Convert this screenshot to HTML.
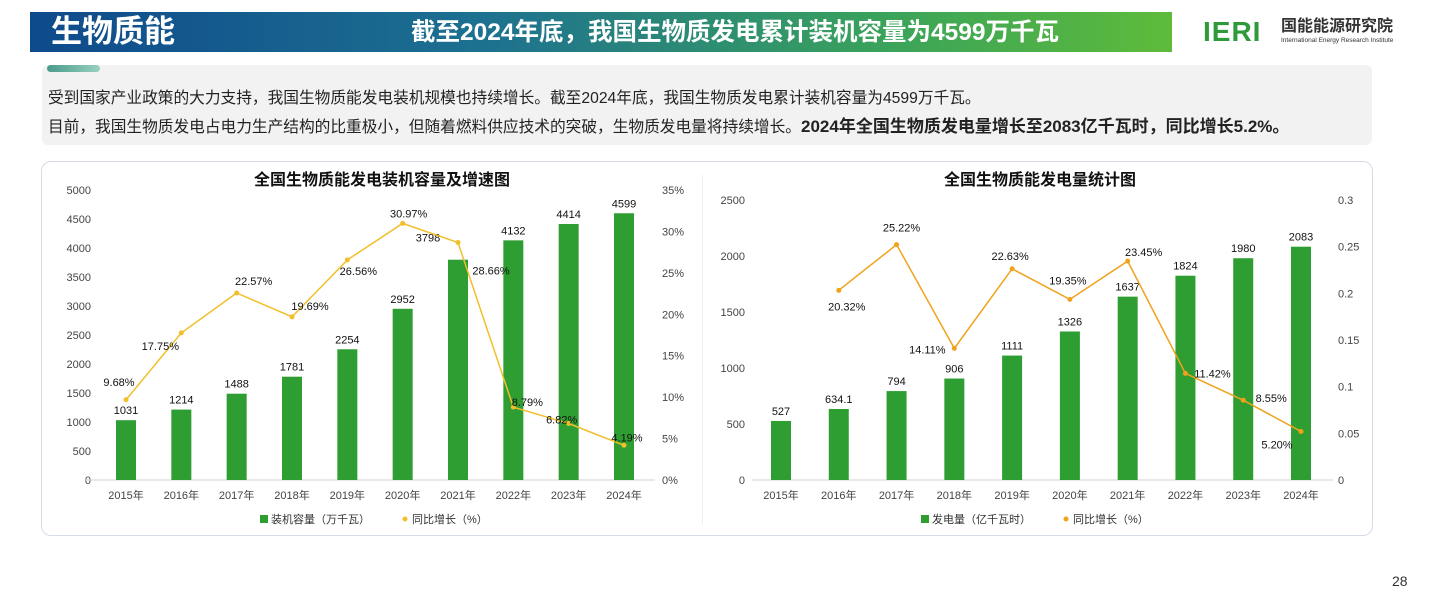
<!DOCTYPE html>
<html><head><meta charset="utf-8">
<style>
body{margin:0;width:1434px;height:613px;background:#fff;position:relative;overflow:hidden;font-family:"Liberation Sans","Noto Sans CJK SC",sans-serif;}
.abs{position:absolute;}
</style></head><body>
<div class="abs" style="left:30px;top:12px;width:1142px;height:40px;background:linear-gradient(90deg,#0e4a8c 0%,#1d7190 40%,#3aa35a 75%,#5ebb3a 100%);"></div>
<div class="abs" style="left:51px;top:12px;font-size:31px;font-weight:bold;color:#fff;line-height:40px;">生物质能</div>
<div class="abs" style="left:411px;top:15px;font-size:24.5px;font-weight:bold;color:#fff;line-height:36px;white-space:nowrap;">截至2024年底，我国生物质发电累计装机容量为4599万千瓦</div>
<div class="abs" style="left:1203px;top:17px;font-size:28px;font-weight:bold;color:#2f9a3a;letter-spacing:1px;line-height:30px;">IERI</div>
<div class="abs" style="left:1281px;top:18px;font-size:16px;font-weight:bold;color:#333;line-height:18px;">国能能源研究院</div>
<div class="abs" style="left:1281px;top:37px;font-size:6.5px;color:#333;white-space:nowrap;">International Energy Research Institute</div>

<div class="abs" style="left:42px;top:65px;width:1330px;height:80px;background:#f2f2f2;border-radius:6px;"></div>
<div class="abs" style="left:47px;top:65px;width:53px;height:7px;border-radius:4px;background:linear-gradient(90deg,#4a9a8a,#9ad0c0);"></div>
<div class="abs" style="left:48px;top:85px;font-size:15.7px;color:#222;white-space:nowrap;">受到国家产业政策的大力支持，我国生物质能发电装机规模也持续增长。截至2024年底，我国生物质发电累计装机容量为4599万千瓦。</div>
<div class="abs" style="left:48px;top:112px;font-size:15.7px;color:#222;white-space:nowrap;">目前，我国生物质发电占电力生产结构的比重极小，但随着燃料供应技术的突破，生物质发电量将持续增长。<b style="font-size:17px">2024年全国生物质发电量增长至2083亿千瓦时，同比增长5.2%。</b></div>

<div class="abs" style="left:41px;top:161px;width:1330px;height:373px;border:1.5px solid #d5dce8;border-radius:10px;"></div>
<div class="abs" style="left:702px;top:175px;width:1px;height:350px;background:#eee;"></div>

<svg class="abs" style="left:0;top:0" width="1434" height="613" font-family="Liberation Sans, Noto Sans CJK SC, sans-serif">
<g id="c1"></g><g id="c2"></g>
</svg>
<div class="abs" style="left:1392px;top:573px;font-size:14px;color:#333;">28</div>

<script>
const years = ["2015年","2016年","2017年","2018年","2019年","2020年","2021年","2022年","2023年","2024年"];
const capValues = [1031,1214,1488,1781,2254,2952,3798,4132,4414,4599];
const capGrowth = [9.68,17.75,22.57,19.69,26.56,30.97,28.66,8.79,6.82,4.19];
const capLeftTicks = [0,500,1000,1500,2000,2500,3000,3500,4000,4500,5000];
const capRightTicks = ["0%","5%","10%","15%","20%","25%","30%","35%"];
const genValues = [527,634.1,794,906,1111,1326,1637,1824,1980,2083];
const genGrowth = [null,20.32,25.22,14.11,22.63,19.35,23.45,11.42,8.55,5.20];
const genLeftTicks = [0,500,1000,1500,2000,2500];
const genRightTicks = ["0","0.05","0.1","0.15","0.2","0.25","0.3"];
const capLabelOff = [[-7,-18],[-21,13],[17,-12],[18,-11],[11,11],[6,-10],[33,28],[14,-5],[-7,-4],[3,-8]];
const capBarLabelOff=[[0,0],[0,0],[0,0],[0,0],[0,0],[0,0],[-30,-12],[0,0],[0,0],[0,0]];
const genLabelOff = [null,[8,16],[5,-17],[-27,1],[-2,-13],[-2,-19],[16,-9],[27,0],[28,-2],[-24,13]];

const NS="http://www.w3.org/2000/svg";
function el(g,tag,attrs,txt){const e=document.createElementNS(NS,tag);for(const k in attrs)e.setAttribute(k,attrs[k]);if(txt!==undefined)e.textContent=txt;g.appendChild(e);return e;}

function drawChart(g,cfg){
  const x=i=>cfg.x0+i*(cfg.x1-cfg.x0)/(years.length-1);
  const y=v=>cfg.yb-v/cfg.lmax*(cfg.yb-cfg.yt);
  const yr=v=>cfg.yb-v/cfg.rmax*(cfg.yb-cfg.yt);
  let t=el(g,'text',{x:cfg.tx,y:185,'text-anchor':'middle','font-size':16,'font-weight':'bold',fill:'#111'},cfg.title);
  
  cfg.lt.forEach(v=>{const e=el(g,'text',{x:cfg.lx,y:y(v)+4,'text-anchor':'end','font-size':11,fill:'#444'},v);
    });
  cfg.rt.forEach((s,i)=>{const v=i*cfg.rmax/(cfg.rt.length-1);const e=el(g,'text',{x:cfg.rx,y:yr(v)+4,'font-size':11,fill:'#444'},s);
    });
  const ax=el(g,'line',{x1:cfg.ax0,x2:cfg.ax1,y1:cfg.yb,y2:cfg.yb,stroke:'#d0d0d0'});
  
  cfg.vals.forEach((v,i)=>{
    const b=el(g,'rect',{x:x(i)-10,y:y(v),width:20,height:cfg.yb-y(v),fill:'#2e9e32'});
    
    const o=cfg.blo?cfg.blo[i]:[0,0];
    const l=el(g,'text',{x:x(i)+o[0],y:y(v)-6+o[1],'text-anchor':'middle','font-size':11,fill:'#111'},v);
    
    const xl=el(g,'text',{x:x(i),y:cfg.yb+19,'text-anchor':'middle','font-size':11,fill:'#444'},years[i]);
    
  });
  let d='';cfg.gr.forEach((v,i)=>{if(v===null)return;d+=(d?'L':'M')+x(i)+','+yr(v/100);});
  const p=el(g,'path',{d:d,fill:'none',stroke:cfg.lc,'stroke-width':1.5});
  
  cfg.gr.forEach((v,i)=>{if(v===null)return;
    const c=el(g,'circle',{cx:x(i),cy:yr(v/100),r:2.5,fill:cfg.lc});
    
    const o=cfg.go[i];
    const l=el(g,'text',{x:x(i)+o[0],y:yr(v/100)+o[1]+4,'text-anchor':'middle','font-size':11,fill:'#111'},v.toFixed(2)+'%');
    
  });
  const lr=el(g,'rect',{x:cfg.lgx,y:515,width:8,height:8,fill:'#2e9e32'});
  
  const lt1=el(g,'text',{x:cfg.lgx+11,y:523,'font-size':11,fill:'#333'},cfg.lg1);
  
  const lc=el(g,'circle',{cx:cfg.lgx+145,cy:519,r:2.5,fill:cfg.lc});
  
  const lt2=el(g,'text',{x:cfg.lgx+152,y:523,'font-size':11,fill:'#333'},'同比增长（%）');
  
}
drawChart(document.getElementById('c1'),{title:'全国生物质能发电装机容量及增速图',tx:382,x0:126,x1:624,yt:190,yb:480,lmax:5000,rmax:0.35,
  lt:capLeftTicks,rt:capRightTicks,lx:91,rx:662,ax0:85,ax1:655,vals:capValues,gr:capGrowth,go:capLabelOff,blo:capBarLabelOff,lc:'#f2bf2a',lgx:260,lg1:'装机容量（万千瓦）'});
drawChart(document.getElementById('c2'),{title:'全国生物质能发电量统计图',tx:1040,x0:781,x1:1301,yt:200,yb:480,lmax:2500,rmax:0.3,
  lt:genLeftTicks,rt:genRightTicks,lx:745,rx:1338,ax0:752,ax1:1333,vals:genValues,gr:genGrowth,go:genLabelOff,lc:'#f0a21c',lgx:921,lg1:'发电量（亿千瓦时）'});
</script>
</body></html>
